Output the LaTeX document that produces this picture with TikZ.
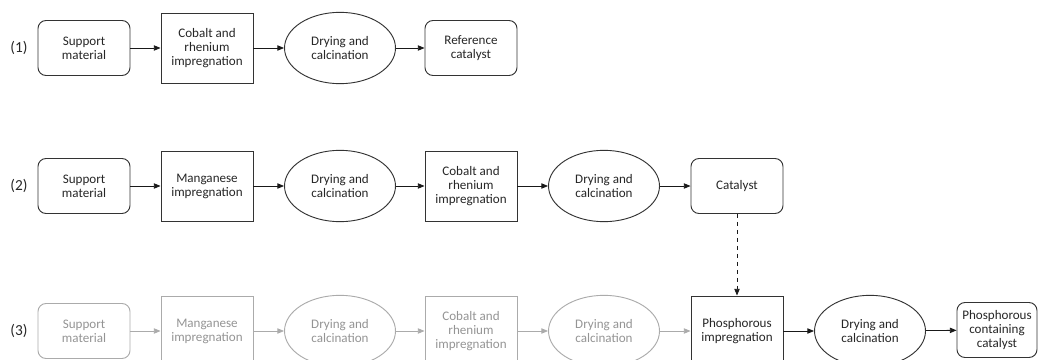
\documentclass[tikz,border=0pt]{standalone}
\usepackage{fontspec}
\setmainfont{Carlito}
\usetikzlibrary{arrows.meta,shapes.geometric}

\begin{document}
\begin{tikzpicture}[x=0.75pt, y=-0.75pt,
        every node/.style={font=\fontsize{9.8}{10.5}\selectfont, align=center, inner sep=1pt, text=black!85},
        route/.style={font=\fontsize{11.5}{12}\selectfont},
        sample/.style={draw=black!80, rounded corners=6pt, line width=0.7pt, minimum width=69pt, minimum height=41.25pt},
        stepbox/.style={draw=black!80, line width=0.7pt, minimum width=69pt, minimum height=52.5pt},
        heat/.style={draw=black!80, ellipse, line width=0.7pt, minimum width=83.25pt, minimum height=53.5pt},
        flow/.style={-{Triangle[length=5pt, width=4pt]}, line width=0.6pt, black!90},
        faded/.style={draw=black!33, text=black!42}]
        \useasboundingbox (0, 0) rectangle (1038, 360);
        \clip (0, 0) rectangle (1038, 360);

        % Route (1)
        \node[route] (lab1) at (19, 48) {(1)};
        \node[sample] (s1) at (84, 48) {Support\\material};
        \node[stepbox] (cr1) at (207, 48) {Cobalt and\\rhenium\\impregnation};
        \node[heat] (dc1) at (340, 48) {Drying and\\calcination};
        \node[sample] (ref) at (471, 48) {Reference\\catalyst};

        \draw[flow] (s1) -- (cr1);
        \draw[flow] (cr1) -- (dc1);
        \draw[flow] (dc1) -- (ref);

        % Route (2)
        \node[route] (lab2) at (19, 186) {(2)};
        \node[sample] (s2) at (84, 186) {Support\\material};
        \node[stepbox] (mn2) at (207, 186) {Manganese\\impregnation};
        \node[heat] (dc2a) at (340, 186) {Drying and\\calcination};
        \node[stepbox] (cr2) at (471, 186) {Cobalt and\\rhenium\\impregnation};
        \node[heat] (dc2b) at (604, 186) {Drying and\\calcination};
        \node[sample] (cat) at (737, 186) {Catalyst};

        \draw[flow] (s2) -- (mn2);
        \draw[flow] (mn2) -- (dc2a);
        \draw[flow] (dc2a) -- (cr2);
        \draw[flow] (cr2) -- (dc2b);
        \draw[flow] (dc2b) -- (cat);

        % Route (3)
        \node[route] (lab3) at (19, 331) {(3)};
        \node[sample, faded] (s3) at (84, 331) {Support\\material};
        \node[stepbox, faded] (mn3) at (207, 331) {Manganese\\impregnation};
        \node[heat, faded] (dc3a) at (340, 331) {Drying and\\calcination};
        \node[stepbox, faded] (cr3) at (471, 331) {Cobalt and\\rhenium\\impregnation};
        \node[heat, faded] (dc3b) at (604, 331) {Drying and\\calcination};
        \node[stepbox] (ph) at (737, 331) {Phosphorous\\impregnation};
        \node[heat] (dc3c) at (870, 331) {Drying and\\calcination};
        \node[sample, minimum width=60pt] (pcat) at (997, 330) {Phosphorous\\containing\\catalyst};

        \draw[flow, black!33] (s3) -- (mn3);
        \draw[flow, black!33] (mn3) -- (dc3a);
        \draw[flow, black!33] (dc3a) -- (cr3);
        \draw[flow, black!33] (cr3) -- (dc3b);
        \draw[flow, black!33] (dc3b) -- (ph);
        \draw[flow] (ph) -- (dc3c);
        \draw[flow] (dc3c) -- (pcat);

        % Catalyst goes on to route (3)
        \draw[flow, dashed] (cat) -- (ph);
\end{tikzpicture}
\end{document}
